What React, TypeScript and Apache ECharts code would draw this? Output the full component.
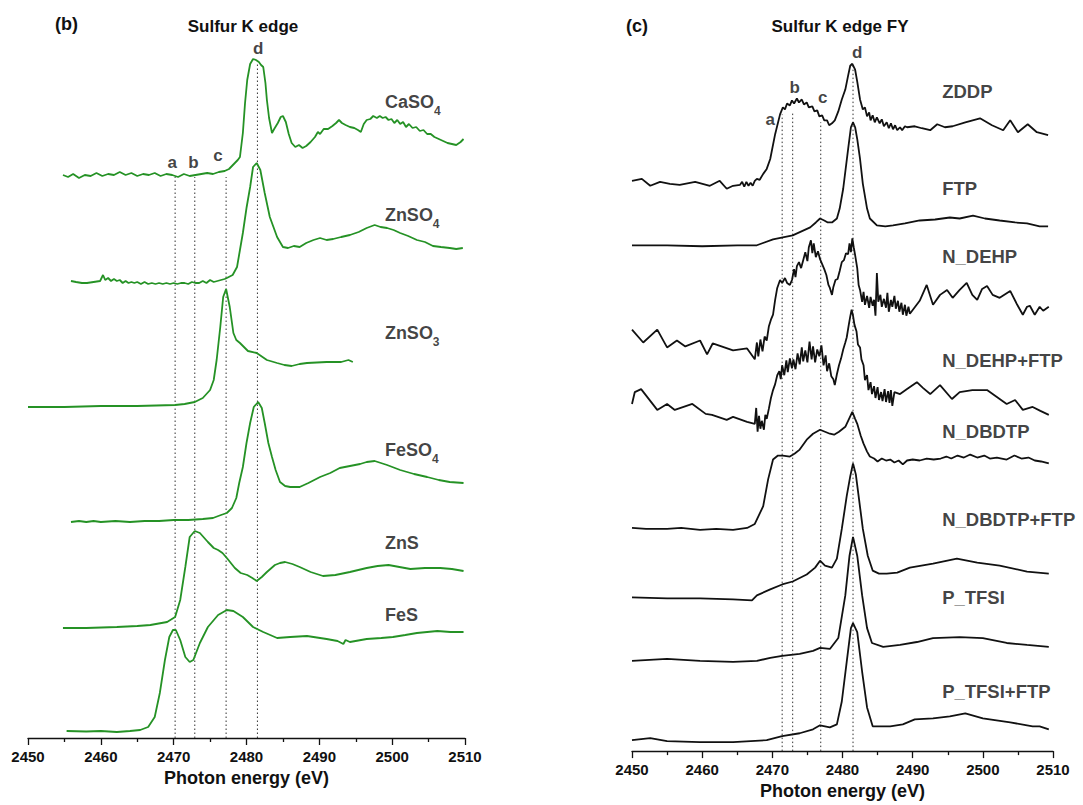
import React, { useEffect, useRef } from "react";
import * as echarts from "echarts";

const FONT = '"Liberation Sans", Arial, Helvetica, sans-serif';
const GREEN = "#259225";
const BLACK = "#111111";

// ---------- Panel (b): Sulfur K edge (reference compounds), stacked intensity (a.u.) ----------
const leftNames = ["CaSO4", "ZnSO4", "ZnSO3", "FeSO4", "ZnS", "FeS"];

const caso4: number[][] = [
  [2454.8, 56.3], [2455.5, 56.1], [2456.2, 56.4], [2457.0, 56.0], [2457.8, 56.3], [2458.6, 56.2], [2459.4, 56.5],
  [2460.2, 56.2], [2461.0, 56.4], [2461.8, 56.3], [2462.6, 56.6], [2463.4, 56.3], [2464.2, 56.5], [2465.0, 56.2],
  [2465.8, 56.4], [2466.6, 56.3], [2467.4, 56.5], [2468.2, 56.2], [2469.0, 56.4], [2469.8, 56.3], [2470.6, 56.1],
  [2471.4, 56.4], [2472.2, 56.2], [2473.0, 56.3], [2473.8, 56.4], [2474.6, 56.5], [2475.4, 56.4], [2476.2, 56.6],
  [2477.0, 56.7], [2477.6, 56.9], [2478.0, 57.2], [2478.4, 57.5], [2478.8, 57.8], [2479.1, 58.1], [2479.5, 60.5],
  [2479.8, 63.5], [2480.1, 65.8], [2480.5, 67.4], [2480.9, 67.9], [2481.3, 67.8], [2481.7, 67.6], [2482.0, 67.3],
  [2482.3, 67.1], [2482.6, 65.5], [2482.8, 63.8], [2483.1, 62.0], [2483.5, 60.5], [2483.8, 60.9], [2484.3, 61.5],
  [2484.7, 62.1], [2485.0, 62.2], [2485.4, 61.6], [2485.8, 60.4], [2486.2, 59.5], [2486.7, 59.1], [2487.2, 59.3],
  [2487.7, 59.0], [2488.2, 59.2], [2488.8, 59.6], [2489.4, 60.1], [2489.8, 60.6], [2490.1, 60.4], [2490.6, 60.9],
  [2491.2, 60.9], [2491.8, 61.2], [2492.3, 61.5], [2492.7, 61.8], [2493.1, 61.5], [2493.6, 61.3], [2494.2, 61.1],
  [2494.8, 61.0], [2495.3, 60.8], [2495.7, 60.6], [2496.1, 61.4], [2496.5, 61.8], [2497.0, 61.9], [2497.4, 62.2],
  [2497.9, 62.0], [2498.3, 62.2], [2498.7, 62.0], [2499.1, 62.1], [2499.5, 61.8], [2499.9, 61.9], [2500.3, 61.5],
  [2500.7, 61.8], [2501.1, 61.4], [2501.5, 61.6], [2501.9, 61.1], [2502.3, 61.4], [2502.8, 61.0], [2503.3, 61.1],
  [2503.8, 60.7], [2504.3, 60.8], [2504.8, 60.4], [2505.3, 60.4], [2505.8, 60.1], [2506.4, 59.9], [2507.0, 59.7],
  [2507.6, 59.5], [2508.2, 59.4], [2508.8, 59.3], [2509.4, 59.6], [2509.8, 59.9],
];

const znso4: number[][] = [
  [2455.9, 45.7], [2456.6, 45.6], [2457.4, 45.5], [2458.1, 45.5], [2459.0, 45.6], [2459.9, 45.7], [2460.3, 46.3],
  [2460.6, 45.8], [2461.0, 46.0], [2461.4, 45.7], [2461.8, 45.9], [2462.2, 45.7], [2462.6, 45.8], [2463.0, 45.5],
  [2463.4, 45.7], [2463.8, 45.5], [2464.2, 45.6], [2464.6, 45.5], [2465.0, 45.6], [2465.5, 45.4], [2466.0, 45.6],
  [2466.5, 45.4], [2467.0, 45.5], [2467.5, 45.4], [2468.0, 45.5], [2468.5, 45.4], [2469.0, 45.5], [2469.5, 45.4],
  [2470.0, 45.5], [2470.5, 45.4], [2471.0, 45.5], [2471.5, 45.5], [2472.0, 45.4], [2472.5, 45.6], [2473.0, 45.5],
  [2473.5, 45.5], [2474.0, 45.7], [2474.5, 45.5], [2475.0, 45.8], [2475.5, 45.6], [2476.0, 45.7], [2476.5, 45.8],
  [2477.0, 45.9], [2477.3, 46.0], [2478.1, 46.3], [2478.7, 47.1], [2479.1, 48.8], [2479.5, 50.5], [2480.0, 53.0],
  [2480.5, 55.1], [2480.9, 57.1], [2481.4, 57.5], [2481.9, 56.8], [2482.5, 54.5], [2483.2, 52.1], [2484.2, 50.1],
  [2485.0, 49.1], [2485.7, 49.0], [2486.5, 49.2], [2487.3, 49.1], [2488.2, 49.5], [2489.2, 49.8], [2490.1, 50.0],
  [2491.0, 49.8], [2491.9, 49.9], [2493.0, 50.1], [2494.2, 50.3], [2495.4, 50.6], [2496.5, 51.0], [2497.6, 51.3],
  [2498.4, 51.1], [2499.3, 51.0], [2500.2, 50.8], [2501.1, 50.5], [2502.2, 50.2], [2503.4, 49.8], [2504.5, 49.6],
  [2505.6, 49.2], [2506.7, 49.1], [2507.9, 49.0], [2508.8, 48.9], [2509.7, 49.0],
];

const znso3: number[][] = [
  [2450.0, 33.1], [2455.0, 33.1], [2460.0, 33.2], [2465.0, 33.2], [2470.2, 33.3], [2471.5, 33.4], [2472.9, 33.6],
  [2474.0, 34.0], [2475.0, 34.8], [2475.5, 35.8], [2475.9, 37.8], [2476.4, 41.1], [2476.8, 44.1], [2477.2, 44.9],
  [2477.7, 43.1], [2478.2, 40.5], [2478.6, 39.8], [2479.1, 39.5], [2480.2, 38.7], [2481.4, 38.5], [2482.8, 37.8],
  [2484.2, 37.5], [2485.2, 37.3], [2486.2, 37.2], [2487.3, 37.4], [2488.3, 37.5], [2491.0, 37.6], [2493.0, 37.6],
  [2494.0, 37.8], [2494.6, 37.6],
];

const feso4: number[][] = [
  [2455.9, 21.6], [2457.0, 21.7], [2458.0, 21.6], [2459.0, 21.7], [2460.0, 21.6], [2462.0, 21.7], [2464.0, 21.6],
  [2466.0, 21.7], [2468.0, 21.7], [2470.0, 21.8], [2472.0, 21.8], [2474.0, 21.9], [2475.4, 22.0], [2476.5, 22.3],
  [2477.3, 22.5], [2478.0, 23.0], [2478.6, 24.0], [2479.0, 25.5], [2479.5, 27.1], [2480.0, 29.5], [2480.5, 31.5],
  [2481.0, 33.1], [2481.6, 33.6], [2482.1, 33.0], [2482.5, 31.5], [2483.0, 29.5], [2483.5, 28.1], [2484.0, 26.8],
  [2484.6, 25.6], [2485.3, 25.2], [2486.0, 25.1], [2487.3, 25.1], [2488.5, 25.5], [2490.1, 26.1], [2491.5, 26.5],
  [2492.8, 27.0], [2494.2, 27.2], [2495.6, 27.4], [2496.5, 27.6], [2497.6, 27.7], [2499.3, 27.3], [2501.1, 26.8],
  [2503.0, 26.4], [2504.8, 26.1], [2506.4, 25.8], [2507.9, 25.6], [2509.8, 25.5],
];

const zns: number[][] = [
  [2454.8, 11.0], [2458.0, 11.0], [2462.2, 11.1], [2465.0, 11.2], [2466.8, 11.3], [2469.1, 11.6], [2470.2, 12.1],
  [2470.9, 13.8], [2471.6, 17.1], [2472.2, 20.1], [2472.9, 20.7], [2473.6, 20.5], [2474.7, 19.6], [2475.5, 19.0],
  [2476.1, 18.8], [2476.7, 18.5], [2477.3, 18.0], [2478.4, 17.0], [2479.2, 16.5], [2480.1, 16.3], [2480.8, 16.0],
  [2481.4, 15.7], [2482.1, 16.1], [2482.8, 16.6], [2483.9, 17.3], [2484.6, 17.5], [2485.3, 17.6], [2486.3, 17.4],
  [2487.3, 17.1], [2488.8, 16.6], [2490.5, 16.2], [2492.2, 16.3], [2494.2, 16.6], [2496.5, 17.0], [2498.0, 17.2],
  [2499.5, 17.3], [2501.0, 17.1], [2502.5, 16.9], [2504.5, 17.0], [2506.6, 17.0], [2508.2, 16.9], [2509.8, 16.7],
];

const fes: number[][] = [
  [2455.3, 0.7], [2458.0, 0.65], [2460.0, 0.7], [2462.2, 0.6], [2464.0, 0.7], [2465.4, 0.8], [2466.5, 1.1],
  [2467.4, 2.1], [2468.1, 4.5], [2468.8, 7.8], [2469.4, 10.1], [2469.9, 10.8], [2470.3, 10.8], [2470.9, 9.8],
  [2471.6, 8.1], [2472.2, 7.6], [2472.7, 7.8], [2473.6, 9.5], [2474.7, 11.1], [2476.1, 12.3], [2477.3, 12.8],
  [2478.2, 12.7], [2479.5, 12.1], [2480.9, 11.1], [2482.3, 10.6], [2484.2, 10.0], [2486.0, 10.1], [2488.3, 10.2],
  [2491.0, 9.9], [2492.5, 9.7], [2493.3, 9.4], [2493.6, 9.8], [2494.2, 9.6], [2496.5, 9.9], [2498.5, 10.0],
  [2500.1, 10.1], [2501.8, 10.3], [2503.4, 10.5], [2506.2, 10.7], [2508.0, 10.6], [2509.8, 10.6],
];

const leftCurves = [caso4, znso4, znso3, feso4, zns, fes];
const leftLabelE = [2499.0, 2499.0, 2499.0, 2499.0, 2499.0, 2499.0];
const leftLabelV = [63.6, 52.3, 40.5, 28.8, 19.5, 12.3];

const guideLetters = ["a", "b", "c", "d"];
const leftGuideE = [2470.2, 2472.9, 2477.2, 2481.5];
const leftGuideTop = [56.1, 56.1, 56.1, 67.5];
const leftLetterE = [2469.8, 2472.7, 2476.1, 2481.6];
const leftLetterV = [57.6, 57.6, 58.3, 69.0];

// ---------- Panel (c): Sulfur K edge FY (samples), stacked intensity (a.u.) ----------
const rightNames = ["ZDDP", "FTP", "N_DEHP", "N_DEHP+FTP", "N_DBDTP", "N_DBDTP+FTP", "P_TFSI", "P_TFSI+FTP"];

const zddp: number[][] = [
  [2450.0, 57.5], [2451.4, 57.7], [2452.6, 57.0], [2454.0, 57.4], [2455.4, 57.2], [2456.8, 57.1], [2459.0, 57.4],
  [2461.1, 57.0], [2462.5, 57.5], [2463.5, 56.7], [2464.4, 57.0], [2465.4, 57.1], [2465.7, 57.4], [2466.0, 56.9],
  [2466.3, 57.4], [2466.6, 57.0], [2466.9, 57.3], [2467.2, 57.0], [2467.5, 57.5], [2467.8, 57.7], [2468.2, 57.6],
  [2468.7, 58.2], [2469.2, 58.7], [2469.7, 59.7], [2470.4, 62.2], [2471.1, 64.2], [2471.5, 64.9], [2471.8, 64.7],
  [2472.1, 65.3], [2472.5, 65.1], [2472.8, 65.6], [2473.1, 65.3], [2473.5, 65.8], [2473.8, 65.4], [2474.2, 65.7],
  [2474.5, 65.2], [2474.9, 65.4], [2475.2, 64.9], [2475.7, 65.0], [2476.0, 64.5], [2476.4, 64.6], [2476.7, 64.0],
  [2477.1, 64.1], [2477.4, 63.6], [2477.8, 63.6], [2478.1, 63.1], [2478.5, 63.3], [2478.9, 63.6], [2479.4, 64.5],
  [2479.9, 65.7], [2480.4, 66.7], [2480.8, 68.1], [2481.1, 69.1], [2481.4, 69.3], [2481.8, 68.7], [2482.1, 67.5],
  [2482.5, 65.7], [2482.9, 64.7], [2483.2, 64.9], [2483.5, 64.0], [2483.8, 64.4], [2484.0, 63.6], [2484.3, 64.1],
  [2484.6, 63.4], [2484.9, 63.9], [2485.3, 63.3], [2485.6, 63.7], [2485.9, 63.0], [2486.3, 63.4], [2486.6, 62.8],
  [2486.9, 63.3], [2487.2, 62.7], [2487.5, 63.1], [2487.8, 62.6], [2488.2, 62.9], [2488.5, 62.6], [2488.9, 63.0],
  [2489.2, 62.9], [2490.3, 63.0], [2491.3, 62.8], [2492.5, 62.6], [2493.5, 63.2], [2494.6, 62.9], [2495.7, 63.0],
  [2497.5, 63.4], [2499.6, 63.8], [2501.3, 63.1], [2502.9, 62.6], [2503.9, 63.6], [2505.0, 62.4], [2506.4, 63.2],
  [2507.7, 62.4], [2509.3, 62.1],
];

const ftp: number[][] = [
  [2450.0, 51.0], [2455.0, 51.0], [2460.0, 50.9], [2465.0, 51.0], [2467.8, 51.0], [2470.1, 51.6], [2472.9, 52.0],
  [2475.4, 52.8], [2476.2, 53.3], [2476.8, 53.7], [2477.4, 53.5], [2477.9, 53.3], [2478.5, 53.3], [2479.2, 53.7],
  [2479.6, 54.7], [2480.1, 56.7], [2480.8, 60.7], [2481.2, 62.9], [2481.5, 63.4], [2481.8, 62.9], [2482.1, 61.7],
  [2482.5, 59.7], [2482.9, 57.2], [2483.5, 54.7], [2483.9, 53.7], [2484.9, 53.0], [2486.1, 52.9], [2487.2, 53.0],
  [2488.9, 53.2], [2491.0, 53.5], [2493.2, 53.6], [2495.3, 53.8], [2496.7, 53.7], [2498.6, 54.0], [2500.3, 53.7],
  [2502.4, 53.5], [2504.6, 53.3], [2506.3, 53.2], [2508.1, 52.9], [2509.3, 52.9],
];

const nDehp: number[][] = [
  [2450.0, 42.5], [2451.6, 41.2], [2453.6, 42.5], [2455.0, 40.7], [2456.4, 41.4], [2457.6, 40.8], [2459.7, 41.4],
  [2460.7, 40.0], [2461.5, 41.1], [2464.4, 40.4], [2466.4, 40.6], [2467.5, 39.5], [2467.8, 41.2], [2468.0, 39.8],
  [2468.3, 41.5], [2468.6, 40.3], [2468.9, 41.8], [2469.2, 41.4], [2469.5, 42.8], [2469.8, 43.5], [2470.1, 44.0],
  [2470.4, 45.5], [2470.7, 46.7], [2471.1, 47.5], [2471.4, 47.2], [2471.8, 47.7], [2472.1, 47.2], [2472.5, 47.0],
  [2472.8, 47.5], [2473.1, 48.6], [2473.3, 47.8], [2473.5, 48.9], [2473.8, 49.3], [2474.1, 48.7], [2474.4, 49.5],
  [2474.7, 50.3], [2475.0, 49.4], [2475.2, 50.8], [2475.5, 51.5], [2475.7, 50.2], [2475.9, 51.2], [2476.2, 49.8],
  [2476.5, 50.4], [2476.8, 49.6], [2477.1, 49.1], [2477.4, 48.6], [2477.7, 48.0], [2478.0, 47.0], [2478.2, 46.7],
  [2478.5, 46.0], [2478.7, 46.8], [2479.0, 47.5], [2479.3, 47.6], [2479.6, 48.4], [2479.9, 49.3], [2480.2, 49.5],
  [2480.5, 50.2], [2480.8, 50.1], [2481.0, 51.2], [2481.2, 50.3], [2481.4, 51.7], [2481.6, 50.8], [2481.8, 50.0],
  [2482.1, 48.7], [2482.3, 47.0], [2482.5, 46.5], [2482.8, 45.3], [2483.0, 46.3], [2483.2, 45.0], [2483.5, 45.9],
  [2483.8, 44.7], [2484.0, 45.8], [2484.3, 44.9], [2484.5, 45.5], [2484.7, 43.9], [2484.9, 48.2], [2485.1, 45.3],
  [2485.4, 46.0], [2485.6, 44.8], [2485.9, 45.6], [2486.2, 44.7], [2486.4, 46.2], [2486.6, 44.3], [2486.9, 45.5],
  [2487.1, 44.8], [2487.4, 45.9], [2487.6, 44.6], [2487.9, 45.4], [2488.1, 44.3], [2488.4, 45.2], [2488.6, 44.0],
  [2488.9, 45.0], [2489.1, 43.9], [2489.4, 44.8], [2489.6, 44.1], [2491.0, 45.4], [2492.0, 47.0], [2492.9, 45.0],
  [2493.9, 46.0], [2494.9, 46.5], [2495.7, 45.7], [2496.7, 46.5], [2497.7, 47.2], [2498.5, 46.0], [2499.2, 45.5],
  [2499.9, 46.6], [2500.6, 46.9], [2501.4, 46.0], [2502.4, 45.7], [2503.9, 46.4], [2504.9, 45.0], [2505.7, 44.0],
  [2506.3, 44.8], [2506.7, 44.9], [2507.4, 44.0], [2508.1, 44.8], [2508.6, 44.4], [2509.4, 44.8],
];

const nDehpFtp: number[][] = [
  [2450.0, 35.0], [2450.4, 36.2], [2451.3, 36.5], [2453.6, 34.4], [2455.0, 35.0], [2456.1, 34.4], [2458.6, 35.0],
  [2460.5, 34.0], [2461.4, 33.9], [2463.5, 33.4], [2464.4, 33.7], [2466.4, 33.2], [2467.5, 33.0], [2467.7, 34.6],
  [2467.9, 32.2], [2468.1, 33.8], [2468.3, 32.5], [2468.5, 33.3], [2468.8, 32.4], [2469.0, 33.9], [2469.2, 33.5],
  [2469.5, 34.5], [2469.8, 35.6], [2470.1, 36.4], [2470.4, 37.0], [2470.7, 37.9], [2471.0, 38.3], [2471.2, 37.5],
  [2471.4, 38.9], [2471.7, 37.9], [2472.0, 39.4], [2472.2, 38.2], [2472.5, 39.6], [2472.8, 38.6], [2473.0, 39.5],
  [2473.3, 38.5], [2473.6, 40.1], [2473.9, 39.0], [2474.2, 40.7], [2474.4, 39.3], [2474.7, 40.4], [2475.0, 39.2],
  [2475.3, 41.3], [2475.6, 39.5], [2475.8, 40.8], [2476.1, 39.2], [2476.4, 40.5], [2476.7, 39.8], [2477.0, 40.9],
  [2477.3, 38.9], [2477.6, 39.9], [2477.8, 38.3], [2478.1, 39.1], [2478.4, 37.8], [2478.7, 37.5], [2478.9, 36.9],
  [2479.2, 38.0], [2479.5, 38.9], [2479.8, 39.6], [2480.1, 40.5], [2480.4, 41.2], [2480.6, 41.7], [2480.9, 43.0],
  [2481.1, 43.8], [2481.3, 44.5], [2481.5, 43.9], [2481.7, 43.0], [2482.0, 42.3], [2482.2, 41.0], [2482.5, 40.7],
  [2482.7, 39.5], [2483.0, 38.9], [2483.2, 37.4], [2483.5, 37.9], [2483.7, 36.4], [2484.0, 37.2], [2484.2, 36.0],
  [2484.5, 36.8], [2484.7, 35.6], [2485.0, 36.7], [2485.2, 35.4], [2485.5, 36.2], [2485.7, 35.3], [2486.0, 36.5],
  [2486.2, 35.2], [2486.5, 36.3], [2486.7, 35.1], [2486.9, 36.4], [2487.1, 34.8], [2487.4, 36.2], [2488.2, 36.0],
  [2489.2, 36.5], [2490.6, 37.2], [2491.5, 36.6], [2492.5, 36.0], [2493.9, 36.9], [2495.6, 35.5], [2496.7, 36.2],
  [2498.5, 36.4], [2500.6, 36.4], [2503.4, 35.0], [2504.6, 35.4], [2505.7, 34.4], [2507.1, 34.7], [2508.2, 34.3],
  [2509.4, 33.9],
];

const nDbdtp: number[][] = [
  [2450.0, 22.5], [2452.0, 22.4], [2455.0, 22.4], [2457.0, 22.5], [2459.7, 22.3], [2462.0, 22.4], [2464.4, 22.3],
  [2466.4, 22.5], [2467.5, 22.9], [2468.5, 24.4], [2468.7, 24.7], [2469.4, 27.4], [2470.1, 29.4], [2470.8, 29.8],
  [2471.5, 29.8], [2472.5, 29.7], [2473.2, 30.0], [2473.9, 30.4], [2474.9, 31.4], [2475.8, 32.0], [2476.8, 32.4],
  [2477.5, 32.2], [2478.2, 32.0], [2478.8, 31.9], [2479.5, 32.2], [2480.4, 32.7], [2481.0, 33.6], [2481.4, 34.2],
  [2481.8, 33.5], [2482.1, 33.0], [2482.6, 31.8], [2483.0, 31.0], [2483.5, 30.2], [2483.9, 29.7], [2484.5, 29.5],
  [2485.0, 29.2], [2485.6, 29.5], [2486.2, 29.3], [2486.8, 29.4], [2487.4, 29.1], [2488.0, 29.3], [2488.6, 28.9],
  [2489.2, 29.3], [2490.0, 29.4], [2491.0, 29.3], [2492.0, 29.5], [2493.0, 29.4], [2494.0, 29.5], [2494.8, 29.7],
  [2495.5, 29.5], [2496.4, 29.8], [2497.3, 29.6], [2498.2, 29.9], [2499.2, 29.6], [2500.2, 29.8], [2501.0, 29.5],
  [2502.0, 29.6], [2503.4, 29.4], [2504.5, 29.8], [2505.5, 29.5], [2506.5, 29.6], [2507.4, 29.3], [2508.3, 29.2],
  [2509.4, 29.0],
];

const nDbdtpFtp: number[][] = [
  [2450.0, 15.5], [2455.0, 15.4], [2459.7, 15.4], [2464.4, 15.3], [2467.1, 15.2], [2467.8, 15.7], [2469.7, 16.3],
  [2471.4, 16.8], [2472.9, 17.1], [2474.9, 17.8], [2476.1, 18.5], [2476.8, 19.2], [2477.5, 18.7], [2478.5, 18.5],
  [2479.2, 19.4], [2479.9, 22.4], [2480.6, 25.7], [2481.1, 27.7], [2481.5, 29.0], [2481.9, 27.9], [2482.3, 25.7],
  [2482.9, 22.4], [2483.6, 19.7], [2484.3, 18.2], [2485.2, 17.9], [2486.3, 17.9], [2487.8, 18.0], [2489.6, 18.5],
  [2492.9, 18.9], [2496.3, 19.4], [2499.2, 19.0], [2502.4, 18.7], [2506.3, 18.1], [2509.4, 17.9],
];

const pTfsi: number[][] = [
  [2450.0, 9.1], [2455.0, 9.3], [2459.7, 9.1], [2464.4, 9.0], [2467.8, 9.1], [2469.7, 9.4], [2471.4, 9.6],
  [2473.9, 9.8], [2475.8, 10.1], [2476.8, 10.4], [2478.2, 10.3], [2479.4, 11.4], [2480.4, 15.7], [2481.0, 19.7],
  [2481.5, 21.6], [2482.1, 19.7], [2482.8, 15.7], [2483.5, 12.4], [2484.2, 10.9], [2485.8, 10.5], [2488.2, 10.7],
  [2490.6, 11.0], [2492.9, 11.4], [2496.7, 11.5], [2500.0, 11.4], [2503.4, 10.9], [2506.3, 10.7], [2509.4, 10.5],
];

const pTfsiFtp: number[][] = [
  [2450.0, 1.1], [2452.6, 1.3], [2455.0, 1.0], [2459.7, 0.9], [2464.4, 0.9], [2469.2, 1.1], [2471.4, 1.5],
  [2473.9, 1.8], [2475.8, 2.2], [2476.8, 2.6], [2478.2, 2.4], [2479.2, 2.7], [2479.9, 5.0], [2480.6, 9.0],
  [2481.2, 12.4], [2481.5, 12.9], [2482.1, 12.0], [2482.8, 8.0], [2483.5, 4.4], [2484.3, 2.5], [2486.8, 2.5],
  [2488.6, 2.7], [2490.3, 3.2], [2492.9, 3.3], [2495.3, 3.5], [2497.5, 3.8], [2500.0, 3.3], [2503.9, 2.9],
  [2507.1, 2.5], [2508.1, 2.5], [2509.4, 2.2],
];

const rightCurves = [zddp, ftp, nDehp, nDehpFtp, nDbdtp, nDbdtpFtp, pTfsi, pTfsiFtp];
const rightLabelE = [2494.2, 2494.2, 2494.2, 2494.2, 2494.2, 2494.2, 2494.2, 2494.2];
const rightLabelV = [66.5, 56.7, 49.9, 39.4, 32.2, 23.4, 15.5, 6.0];

const rightGuideE = [2471.4, 2472.9, 2476.9, 2481.5];
const rightGuideTop = [64.2, 64.5, 63.4, 69.2];
const rightLetterE = [2469.7, 2473.2, 2477.2, 2482.1];
const rightLetterV = [63.7, 66.9, 65.9, 70.4];

const xTicks = { min: 2450, max: 2510, interval: 10 };

function labelFormatter(p: any) {
  const n: string = p.name;
  const m = n.match(/^(.*?[A-Za-z])(\d)$/);
  return m ? `{m|${m[1]}}{s|${m[2]}}` : `{m|${n}}`;
}

function makeRich(size: number) {
  return {
    m: { fontFamily: FONT, fontWeight: "bold", fontSize: size, color: BLACK, lineHeight: 30 },
    s: { fontFamily: FONT, fontWeight: "bold", fontSize: 12, color: BLACK, lineHeight: 12, verticalAlign: "bottom" },
  };
}

function makeXAxis(gridIndex: number) {
  return {
    type: "value",
    gridIndex,
    min: xTicks.min,
    max: xTicks.max,
    interval: xTicks.interval,
    name: "Photon energy (eV)",
    nameLocation: "middle",
    nameGap: gridIndex === 0 ? 31 : 29,
    nameTextStyle: { fontFamily: FONT, fontWeight: "bold", fontSize: 18, color: BLACK },
    axisLine: { show: true, onZero: false, lineStyle: { color: BLACK, width: 1.3 } },
    axisTick: { show: true, inside: false, length: 7, lineStyle: { color: BLACK, width: 1.3 } },
    minorTick: { show: true, splitNumber: 2, length: 4, lineStyle: { color: BLACK, width: 1.3 } },
    axisLabel: {
      fontFamily: FONT,
      fontWeight: "bold",
      fontSize: 15,
      color: BLACK,
      margin: 11,
      formatter: (v: number) => String(v),
    },
    splitLine: { show: false },
  };
}

function makeYAxis(gridIndex: number) {
  return { type: "value", gridIndex, min: 0, max: 72, show: false };
}

function buildPanel(
  idx: number,
  names: string[],
  curves: number[][][],
  color: string,
  labelSize: number,
  labelE: number[],
  labelV: number[],
  guideE: number[],
  guideTop: number[],
  letterE: number[],
  letterV: number[]
) {
  const series: any[] = [];
  curves.forEach((c, i) => {
    series.push({
      type: "line",
      name: names[i],
      xAxisIndex: idx,
      yAxisIndex: idx,
      data: c,
      symbol: "none",
      silent: true,
      z: 3,
      lineStyle: { color, width: 1.8 },
    });
  });
  guideE.forEach((e, i) => {
    series.push({
      type: "line",
      xAxisIndex: idx,
      yAxisIndex: idx,
      data: [
        [e, 0],
        [e, guideTop[i]],
      ],
      symbol: "none",
      silent: true,
      z: 2,
      lineStyle: { color: "#333", width: 1, type: [1.5, 2.5] },
    });
  });
  series.push({
    type: "scatter",
    xAxisIndex: idx,
    yAxisIndex: idx,
    symbolSize: 0,
    silent: true,
    data: names.map((n, i) => ({ name: n, value: [labelE[i], labelV[i]] })),
    label: {
      show: true,
      position: "inside",
      align: "left",
      verticalAlign: "middle",
      formatter: labelFormatter,
      rich: makeRich(labelSize),
    },
  });
  series.push({
    type: "scatter",
    xAxisIndex: idx,
    yAxisIndex: idx,
    symbolSize: 0,
    silent: true,
    data: guideLetters.map((n, i) => ({ name: n, value: [letterE[i], letterV[i]] })),
    label: {
      show: true,
      position: "inside",
      align: "center",
      verticalAlign: "middle",
      formatter: (p: any) => p.name,
      fontFamily: FONT,
      fontWeight: "bold",
      fontSize: 17,
      color: BLACK,
    },
  });
  return series;
}

export default function App() {
  const ref = useRef<HTMLDivElement>(null);

  useEffect(() => {
    if (!ref.current) return;
    const chart = echarts.init(ref.current, undefined, { renderer: "svg" });
    const series = [
      ...buildPanel(0, leftNames, leftCurves, GREEN, 18, leftLabelE, leftLabelV, leftGuideE, leftGuideTop, leftLetterE, leftLetterV),
      ...buildPanel(1, rightNames, rightCurves, BLACK, 18.5, rightLabelE, rightLabelV, rightGuideE, rightGuideTop, rightLetterE, rightLetterV),
    ];
    chart.setOption({
      animation: false,
      backgroundColor: "#ffffff",
      grid: [
        { left: 28, width: 437, top: 18, height: 720 },
        { left: 632, width: 421, top: 37, height: 720 },
      ],
      xAxis: [makeXAxis(0), makeXAxis(1)],
      yAxis: [makeYAxis(0), makeYAxis(1)],
      graphic: [
        { type: "text", left: 55, top: 15, style: { text: "(b)", font: `bold 18px ${FONT}`, fill: BLACK } },
        { type: "text", x: 243, y: 26, style: { text: "Sulfur K edge", font: `bold 17px ${FONT}`, fill: BLACK, align: "center", verticalAlign: "middle" } },
        { type: "text", left: 626, top: 17, style: { text: "(c)", font: `bold 18px ${FONT}`, fill: BLACK } },
        { type: "text", x: 840, y: 26, style: { text: "Sulfur K edge FY", font: `bold 17px ${FONT}`, fill: BLACK, align: "center", verticalAlign: "middle" } },
      ],
      series,
    });
    return () => chart.dispose();
  }, []);

  return (
    <div
      ref={ref}
      style={{ position: "fixed", left: 0, top: 0, width: 1083, height: 805, background: "#fff" }}
    />
  );
}
